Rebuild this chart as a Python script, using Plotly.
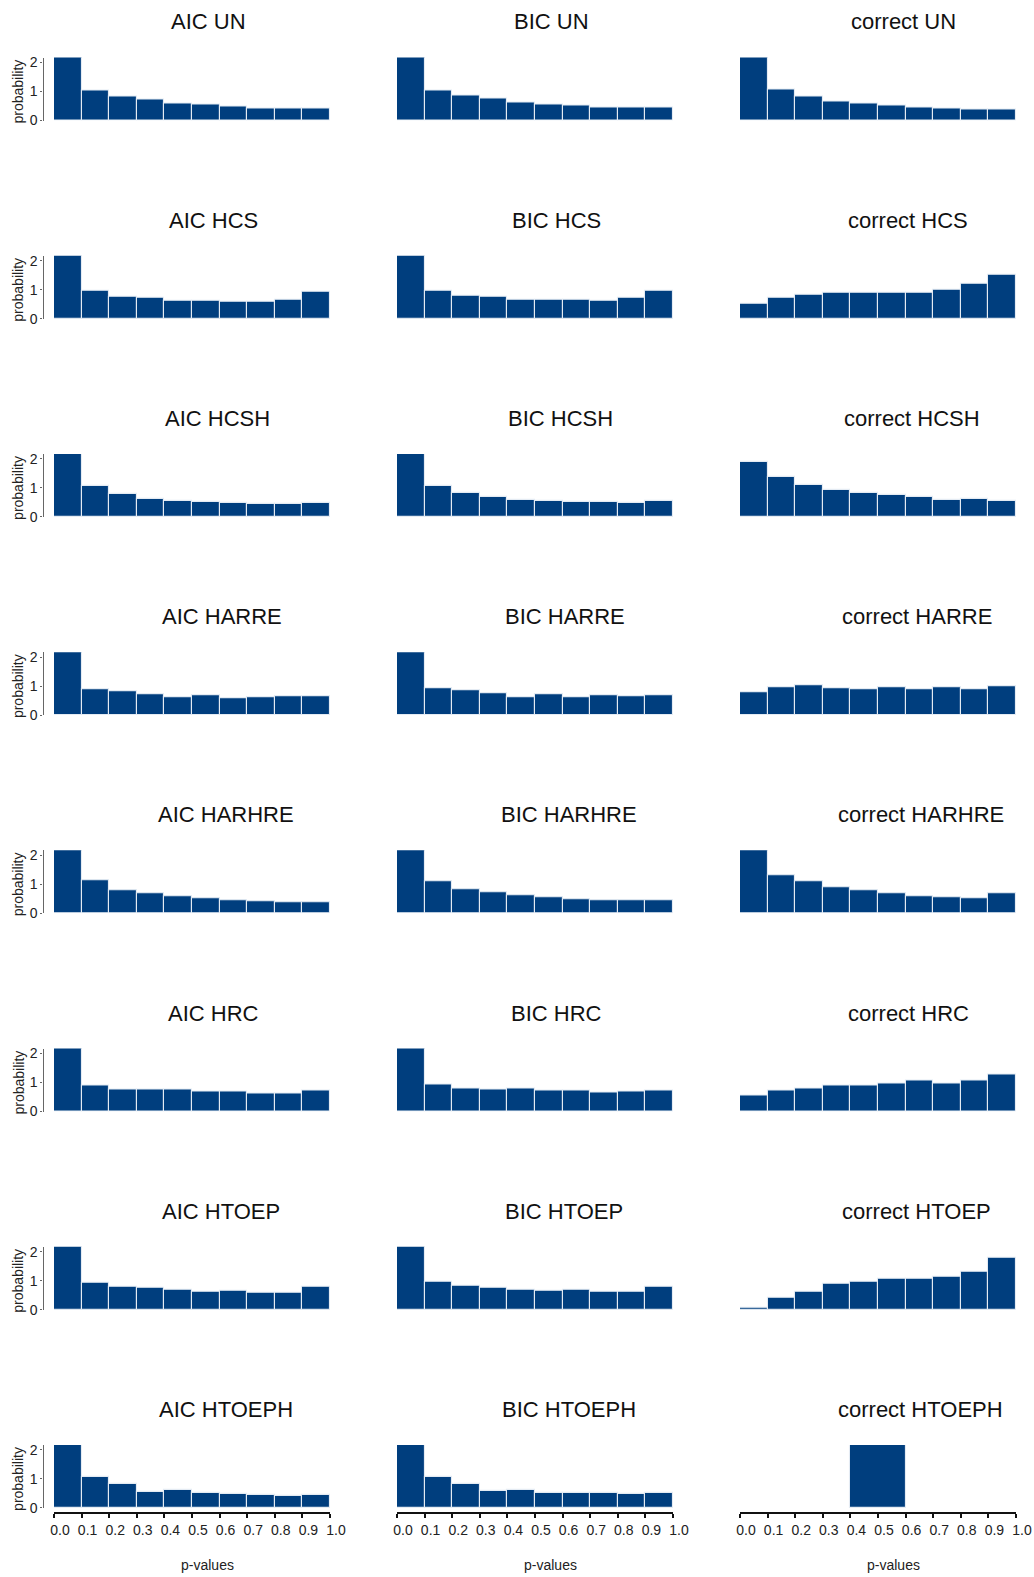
import plotly.graph_objects as go

# ---------------- data (probability density per p-value bin) ----------------
bin_centers = [0.05, 0.15, 0.25, 0.35, 0.45, 0.55, 0.65, 0.75, 0.85, 0.95]
tick_vals = [0.0, 0.1, 0.2, 0.3, 0.4, 0.5, 0.6, 0.7, 0.8, 0.9, 1.0]
tick_text = ["0.0", "0.1", "0.2", "0.3", "0.4", "0.5", "0.6", "0.7", "0.8", "0.9", "1.0"]
y_ticks = [0, 1, 2]
structures = ["UN", "HCS", "HCSH", "HARRE", "HARHRE", "HRC", "HTOEP", "HTOEPH"]
methods = ["AIC", "BIC", "correct"]

aic_un     = [2.2, 1.02, 0.84, 0.72, 0.59, 0.54, 0.48, 0.42, 0.42, 0.42]
bic_un     = [2.2, 1.03, 0.87, 0.74, 0.62, 0.55, 0.50, 0.44, 0.46, 0.46]
correct_un = [2.2, 1.07, 0.81, 0.65, 0.58, 0.50, 0.43, 0.41, 0.36, 0.36]

aic_hcs     = [2.2, 0.97, 0.77, 0.71, 0.62, 0.61, 0.58, 0.57, 0.67, 0.93]
bic_hcs     = [2.2, 0.97, 0.79, 0.74, 0.67, 0.65, 0.65, 0.62, 0.73, 0.98]
correct_hcs = [0.52, 0.73, 0.82, 0.91, 0.91, 0.91, 0.89, 0.99, 1.20, 1.53]

aic_hcsh     = [2.2, 1.07, 0.78, 0.61, 0.56, 0.51, 0.47, 0.46, 0.44, 0.47]
bic_hcsh     = [2.2, 1.07, 0.81, 0.68, 0.59, 0.54, 0.53, 0.50, 0.47, 0.54]
correct_hcsh = [1.91, 1.38, 1.09, 0.93, 0.83, 0.75, 0.69, 0.59, 0.63, 0.56]

aic_harre     = [2.2, 0.89, 0.83, 0.71, 0.61, 0.68, 0.58, 0.61, 0.65, 0.65]
bic_harre     = [2.2, 0.92, 0.85, 0.76, 0.63, 0.71, 0.61, 0.68, 0.66, 0.68]
correct_harre = [0.78, 0.98, 1.03, 0.93, 0.88, 0.98, 0.91, 0.96, 0.91, 0.99]

aic_harhre     = [2.2, 1.12, 0.80, 0.69, 0.58, 0.51, 0.45, 0.42, 0.37, 0.39]
bic_harhre     = [2.2, 1.09, 0.82, 0.71, 0.61, 0.54, 0.47, 0.46, 0.43, 0.44]
correct_harhre = [2.2, 1.31, 1.09, 0.89, 0.78, 0.68, 0.60, 0.55, 0.51, 0.68]

aic_hrc     = [2.2, 0.91, 0.77, 0.74, 0.74, 0.68, 0.69, 0.61, 0.62, 0.71]
bic_hrc     = [2.2, 0.93, 0.79, 0.74, 0.78, 0.71, 0.71, 0.65, 0.69, 0.73]
correct_hrc = [0.56, 0.73, 0.78, 0.88, 0.91, 0.96, 1.05, 0.98, 1.05, 1.29]

aic_htoep     = [2.2, 0.94, 0.79, 0.75, 0.68, 0.61, 0.66, 0.60, 0.60, 0.78]
bic_htoep     = [2.2, 0.96, 0.83, 0.76, 0.70, 0.66, 0.68, 0.63, 0.63, 0.79]
correct_htoep = [0.08, 0.40, 0.63, 0.88, 0.97, 1.05, 1.06, 1.15, 1.30, 1.78]

aic_htoeph = [2.2, 1.05, 0.82, 0.56, 0.61, 0.50, 0.47, 0.44, 0.42, 0.46]
bic_htoeph = [2.2, 1.05, 0.82, 0.59, 0.63, 0.52, 0.50, 0.50, 0.47, 0.51]
# the correct HTOEPH histogram has a single bin from 0.4 to 0.6
correct_htoeph_centers = [0.5]
correct_htoeph_widths = [0.2]
correct_htoeph = [2.2]

panels = [
    [aic_un, bic_un, correct_un],
    [aic_hcs, bic_hcs, correct_hcs],
    [aic_hcsh, bic_hcsh, correct_hcsh],
    [aic_harre, bic_harre, correct_harre],
    [aic_harhre, bic_harhre, correct_harhre],
    [aic_hrc, bic_hrc, correct_hrc],
    [aic_htoep, bic_htoep, correct_htoep],
    [aic_htoeph, bic_htoeph, correct_htoeph],
]

# ---------------- layout geometry (pixels) ----------------
W, H = 1034, 1577
COL_X0 = [54, 397, 740]
COL_W = 276
ROW_ZERO0 = 120.5
ROW_PITCH = 198.2
Y_MAX = 2.17
PX_PER_UNIT = 29.0
BAR_COLOR = "rgb(0,62,126)"
EDGE_COLOR = "#e4ebf3"
FONT = "Liberation Sans, Arial, Helvetica, sans-serif"

EM = {"A": .667, "B": .667, "C": .722, "E": .667, "H": .722, "I": .278, "N": .722,
      "O": .778, "P": .667, "R": .722, "S": .667, "T": .611, "U": .722, "c": .5,
      "e": .556, "o": .556, "r": .333, "t": .278, " ": .278}


def text_w(s, size):
    return sum(EM.get(ch, .6) for ch in s) * size


def px(x):
    return x / W


def py(y):
    return 1 - y / H


fig = go.Figure()
annotations = []
n_rows = len(structures)

for r, struct in enumerate(structures):
    zero = ROW_ZERO0 + ROW_PITCH * r
    top = zero - Y_MAX * PX_PER_UNIT
    for c, meth in enumerate(methods):
        k = r * 3 + c + 1
        xa = "x" if k == 1 else f"x{k}"
        ya = "y" if k == 1 else f"y{k}"
        xkey = "xaxis" if k == 1 else f"xaxis{k}"
        ykey = "yaxis" if k == 1 else f"yaxis{k}"
        vals = panels[r][c]
        if meth == "correct" and struct == "HTOEPH":
            xs, ws = correct_htoeph_centers, correct_htoeph_widths
        else:
            xs, ws = bin_centers, [0.1] * len(bin_centers)
        fig.add_trace(go.Bar(
            x=xs, y=vals, width=ws, xaxis=xa, yaxis=ya,
            marker=dict(color=BAR_COLOR, line=dict(color=EDGE_COLOR, width=1.1)),
            showlegend=False, hoverinfo="skip"))

        x0 = COL_X0[c]
        bottom_row = (r == n_rows - 1)
        xaxis = dict(domain=[px(x0), px(x0 + COL_W)], range=[0, 1], automargin=False,
                     showgrid=False, zeroline=False, fixedrange=True)
        if bottom_row:
            xaxis.update(anchor="free", position=py(zero + 5),
                         showline=True, linecolor="#111", linewidth=2,
                         ticks="outside", ticklen=4, tickwidth=1.5, tickcolor="#111",
                         tickvals=tick_vals, ticktext=tick_text,
                         ticklabelshift=6,
                         tickfont=dict(family=FONT, size=14, color="#222"))
        else:
            xaxis.update(anchor=ya, visible=False)
        yaxis = dict(domain=[py(zero), py(top)], range=[0, Y_MAX], automargin=False,
                     showgrid=False, zeroline=False, fixedrange=True)
        if c == 0:
            yaxis.update(anchor="free", position=px(42.5),
                         showline=True, linecolor="#666", linewidth=1.3,
                         ticks="outside", ticklen=2, tickcolor="#666",
                         tickvals=y_ticks,
                         tickfont=dict(family=FONT, size=14, color="#222"))
        else:
            yaxis.update(anchor=xa, visible=False)
        fig.layout[xkey] = xaxis
        fig.layout[ykey] = yaxis

        # panel title
        title = f"{meth} {struct}"
        cx = x0 + COL_W / 2 - 4.5 + 0.29 * text_w(title, 21.7)
        annotations.append(dict(text=title, x=px(cx), y=py(22 + ROW_PITCH * r),
                                xref="paper", yref="paper", xanchor="center", yanchor="middle",
                                showarrow=False, font=dict(family=FONT, size=22, color="#111")))
        if c == 0:
            annotations.append(dict(text="probability", x=px(18), y=py(zero - 29),
                                    xref="paper", yref="paper", xanchor="center", yanchor="middle",
                                    textangle=-90, showarrow=False,
                                    font=dict(family=FONT, size=14, color="#222")))
        if bottom_row:
            annotations.append(dict(text="p-values", x=px(x0 + COL_W / 2 + 15), y=py(1565),
                                    xref="paper", yref="paper", xanchor="center", yanchor="middle",
                                    showarrow=False, font=dict(family=FONT, size=14, color="#222")))

fig.update_layout(width=W, height=H, autosize=False,
                  margin=dict(l=0, r=0, t=0, b=0, pad=0),
                  paper_bgcolor="white", plot_bgcolor="white",
                  bargap=0, annotations=annotations)

fig.write_html("out.html")
